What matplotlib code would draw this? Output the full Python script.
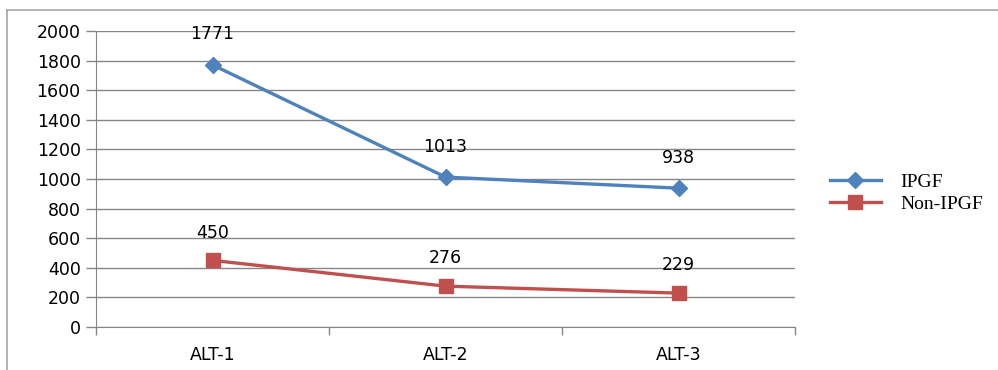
import matplotlib
matplotlib.use("Agg")
import matplotlib.pyplot as plt
from matplotlib.lines import Line2D

categories = ["ALT-1", "ALT-2", "ALT-3"]
ipgf = [1771, 1013, 938]
non_ipgf = [450, 276, 229]
y_ticks = [0, 200, 400, 600, 800, 1000, 1200, 1400, 1600, 1800, 2000]

W, H = 998, 370
fig = plt.figure(figsize=(W / 100, H / 100), dpi=100)

# outer chart frame: top and left edges only
fig.add_artist(Line2D([7 / W, 1], [1 - 10 / H, 1 - 10 / H], color="#A6A6A6", lw=1.2))
fig.add_artist(Line2D([7 / W, 7 / W], [0, 1 - 10 / H], color="#A6A6A6", lw=1.2))

left, right = 96 / W, 795 / W
bottom, top = 1 - 327 / H, 1 - 31 / H
ax = fig.add_axes([left, bottom, right - left, top - bottom])

x = list(range(len(categories)))
blue = "#4F81BD"
red = "#C0504D"
ax.plot(x, ipgf, color=blue, lw=2.4, marker="D", ms=8.5, label="IPGF", zorder=3)
ax.plot(x, non_ipgf, color=red, lw=2.4, marker="s", ms=10, label="Non-IPGF", zorder=3)

fs = 12.5
for xi, v in zip(x, ipgf):
    ax.annotate(str(v), (xi, v), xytext=(0, 22), textcoords="offset points",
                ha="center", va="center", fontsize=fs, color="#000000")
for xi, v in zip(x, non_ipgf):
    ax.annotate(str(v), (xi, v), xytext=(0, 20), textcoords="offset points",
                ha="center", va="center", fontsize=fs, color="#000000")

ax.set_xlim(-0.5, 2.5)
ax.set_ylim(0, 2000)
ax.set_yticks(y_ticks)
ax.set_yticklabels([str(t) for t in y_ticks], fontsize=fs)
ax.set_xticks(x)
ax.set_xticklabels(categories, fontsize=fs)
ax.tick_params(axis="x", length=0, pad=14)
ax.tick_params(axis="y", length=7, color="#868686", width=1, pad=4)
ax.set_xticks([-0.5, 0.5, 1.5, 2.5], minor=True)
ax.tick_params(axis="x", which="minor", length=6, color="#868686", width=1)

ax.grid(axis="y", color="#868686", lw=1)
ax.set_axisbelow(True)
for side in ["top", "right"]:
    ax.spines[side].set_visible(False)
ax.spines["left"].set_color("#868686")
ax.spines["bottom"].set_color("#868686")
ax.spines["left"].set_bounds(0, 2000)

leg = fig.legend(loc="center left", bbox_to_anchor=(830 / W, 1 - 193 / H),
                 frameon=False, prop={"family": "Liberation Serif", "size": 14},
                 handlelength=2.6, handletextpad=1.0, labelspacing=0.25,
                 borderpad=0, borderaxespad=0)

fig.savefig("out.png", dpi=100)
